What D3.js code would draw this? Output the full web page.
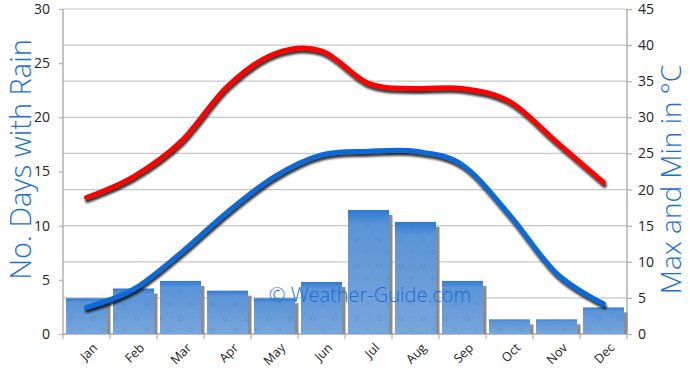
<!DOCTYPE html>
<html><head><meta charset="utf-8">
<script src="https://cdn.jsdelivr.net/npm/d3@7"></script>
<style>
html,body{margin:0;padding:0;background:#fff;}
svg{display:block;font-family:"Open Sans","DejaVu Sans",sans-serif;}
</style></head>
<body><svg id="chart" width="690" height="370"></svg>
<script>
const months = ["Jan","Feb","Mar","Apr","May","Jun","Jul","Aug","Sep","Oct","Nov","Dec"];
const rainDays = [3.3, 4.2, 4.9, 4.0, 3.3, 4.8, 11.45, 10.35, 4.9, 1.35, 1.35, 2.45];
const maxTemp = [18.9, 21.8, 26.6, 34.3, 38.8, 39.2, 34.7, 34.0, 34.0, 32.2, 26.6, 21.0];
const minTemp = [3.7, 6.2, 11.2, 16.9, 21.8, 24.8, 25.3, 25.3, 23.4, 16.5, 8.4, 4.2];
const leftTicks = [0, 5, 10, 15, 20, 25, 30];
const rightTicks = [0, 5, 10, 15, 20, 25, 30, 35, 40, 45];
const leftTitle = "No. Days with Rain";
const rightTitle = "Max and Min in °C";
const watermark = "© Weather-Guide.com";

const svg = d3.select("#chart");
const L = 63, R = 627, T = 9, B = 334;

const x = d3.scaleBand().domain(months).range([L, R]).paddingInner(0.128).paddingOuter(0.064);
const xc = d3.scalePoint().domain(months).range([L, R]).padding(0.5);
const yL = d3.scaleLinear().domain([0, 30]).range([B, T]);
const yR = d3.scaleLinear().domain([0, 45]).range([B, T]);

const defs = svg.append("defs");
const grad = defs.append("linearGradient").attr("id","barGrad").attr("x1",0).attr("y1",0).attr("x2",0).attr("y2",1);
grad.append("stop").attr("offset","0%").attr("stop-color","#2d7ad0");
grad.append("stop").attr("offset","12%").attr("stop-color","#5b94d8");
grad.append("stop").attr("offset","100%").attr("stop-color","#78a6dc");
const pat = defs.append("pattern").attr("id","drops").attr("patternUnits","userSpaceOnUse").attr("width",22).attr("height",26);
pat.append("ellipse").attr("cx",5).attr("cy",6).attr("rx",2).attr("ry",2.5).attr("fill","none").attr("stroke","#3f72b0").attr("stroke-opacity",0.35).attr("stroke-width",0.8);
pat.append("ellipse").attr("cx",15).attr("cy",18).attr("rx",1.5).attr("ry",2).attr("fill","none").attr("stroke","#3f72b0").attr("stroke-opacity",0.3).attr("stroke-width",0.8);
pat.append("circle").attr("cx",17).attr("cy",5).attr("r",0.8).attr("fill","#3f72b0").attr("fill-opacity",0.3);
const sh = defs.append("filter").attr("id","lineShadow").attr("x","-5%").attr("y","-20%").attr("width","110%").attr("height","140%");
sh.append("feGaussianBlur").attr("in","SourceAlpha").attr("stdDeviation",1.3).attr("result","b");
sh.append("feOffset").attr("in","b").attr("dx",1).attr("dy",2.5).attr("result","o");
sh.append("feComponentTransfer").attr("in","o").attr("result","s").append("feFuncA").attr("type","linear").attr("slope",0.8);
const mg = sh.append("feMerge");
mg.append("feMergeNode").attr("in","s");
mg.append("feMergeNode").attr("in","SourceGraphic");

// gridlines (right axis)
svg.append("g").selectAll("line").data(rightTicks).join("line")
  .attr("x1", L).attr("x2", R).attr("y1", d => yR(d)).attr("y2", d => yR(d))
  .attr("stroke", "#c8c8c8").attr("stroke-width", 1.2);

// axes lines
const axCol = "#b0b0b0";
svg.append("line").attr("x1",L).attr("x2",L).attr("y1",T).attr("y2",B).attr("stroke",axCol).attr("stroke-width",1.5);
svg.append("line").attr("x1",R).attr("x2",R).attr("y1",T).attr("y2",B).attr("stroke",axCol).attr("stroke-width",1.5);
svg.append("line").attr("x1",L).attr("x2",R).attr("y1",B).attr("y2",B).attr("stroke",axCol).attr("stroke-width",1.5);

// left axis
const gl = svg.append("g").attr("transform",`translate(${L},0)`)
  .call(d3.axisLeft(yL).tickValues(leftTicks).tickSize(4).tickPadding(9));
gl.select(".domain").remove();
gl.selectAll(".tick line").attr("stroke",axCol).attr("stroke-width",1.2);
gl.selectAll(".tick text").attr("font-size",14).attr("fill","#222").attr("font-family","'Open Sans',sans-serif");

// right axis
const gr = svg.append("g").attr("transform",`translate(${R},0)`)
  .call(d3.axisRight(yR).tickValues(rightTicks).tickSize(5).tickPadding(6));
gr.select(".domain").remove();
gr.selectAll(".tick line").attr("stroke",axCol).attr("stroke-width",1.2);
gr.selectAll(".tick text").attr("font-size",14).attr("fill","#222").attr("font-family","'Open Sans',sans-serif");

// bottom tick marks at band boundaries
const bnd = months.map((m,i) => i).concat([months.length]);
svg.append("g").selectAll("line").data(bnd).join("line")
  .attr("x1", i => L + i * x.step()).attr("x2", i => L + i * x.step())
  .attr("y1", B).attr("y2", B + 5).attr("stroke", axCol).attr("stroke-width",1.2);

// month labels
svg.append("g").selectAll("text").data(months).join("text")
  .attr("transform", d => `translate(${xc(d)+5},${B+8}) rotate(-45)`)
  .attr("text-anchor","end").attr("dy","0.75em")
  .attr("font-size",12.5).attr("fill","#222").text(d => d);

// bars
const bars = svg.append("g");
bars.selectAll("rect.sh").data(rainDays).join("rect").attr("class","sh")
  .attr("x", (d,i) => x(months[i]) + x.bandwidth() - 1)
  .attr("y", d => yL(d) + 5)
  .attr("width", 4.5)
  .attr("height", d => B - yL(d) - 5)
  .attr("fill", "#8c8c8c");
bars.selectAll("rect.b").data(rainDays).join("rect").attr("class","b")
  .attr("x", (d,i) => x(months[i])).attr("y", d => yL(d))
  .attr("width", x.bandwidth()).attr("height", d => B - yL(d))
  .attr("fill", "url(#barGrad)");
bars.selectAll("rect.p").data(rainDays).join("rect").attr("class","p")
  .attr("x", (d,i) => x(months[i])).attr("y", d => yL(d))
  .attr("width", x.bandwidth()).attr("height", d => B - yL(d))
  .attr("fill", "url(#drops)");

// watermark
svg.append("text").attr("x", 370).attr("y", 302).attr("text-anchor","middle")
  .attr("font-size", 20).attr("fill","#1a6ed8").attr("font-family","'Open Sans',sans-serif")
  .attr("font-weight", 300).text(watermark);

// lines
const line = d3.line().x((d,i) => xc(months[i])).y(d => yR(d)).curve(d3.curveCatmullRom.alpha(0));
svg.append("path").datum(maxTemp).attr("d", line).attr("fill","none")
  .attr("stroke","#ff0000").attr("stroke-width",5).attr("stroke-linecap","round").attr("filter","url(#lineShadow)");
svg.append("path").datum(minTemp).attr("d", line).attr("fill","none")
  .attr("stroke","#0a68d8").attr("stroke-width",5).attr("stroke-linecap","round").attr("filter","url(#lineShadow)");

// axis titles
svg.append("text").attr("transform", `translate(31,${(T+B)/2-12}) rotate(-90)`)
  .attr("text-anchor","middle").attr("font-size",29).attr("fill","#1a6ed8")
  .attr("font-weight",300).text(leftTitle);
svg.append("text").attr("transform", `translate(681,${(T+B)/2+8}) rotate(-90)`)
  .attr("text-anchor","middle").attr("font-size",28).attr("fill","#1a6ed8")
  .attr("font-weight",300).text(rightTitle);
</script></body></html>
